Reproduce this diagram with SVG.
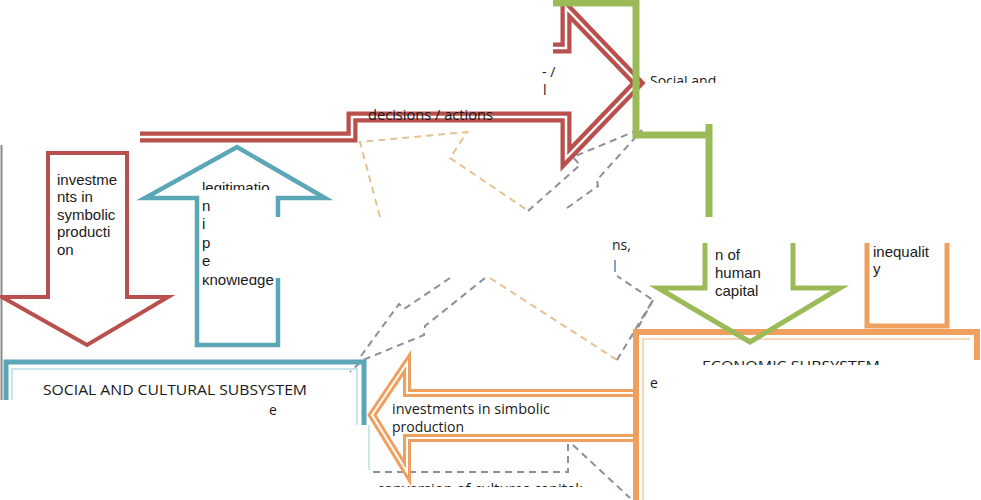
<svg xmlns="http://www.w3.org/2000/svg" width="981" height="500" viewBox="0 0 981 500">
<style>
text{font-family:"Open Sans","Liberation Sans",sans-serif;font-size:14px;fill:#1a1a1a}
.ls{font-family:"Liberation Sans",Arial,sans-serif;font-size:15px}
.red{fill:none;stroke:#b9504d;stroke-linejoin:miter}
.teal{fill:none;stroke:#5ba7b8}
.green{fill:none;stroke:#9bbb59}
.orange{fill:none;stroke:#efa05f}
.inner{fill:none;stroke:#fff}
.dg{fill:none;stroke:#8e8e9c;stroke-width:2;stroke-dasharray:7 5}
.do{fill:none;stroke:#e6c290;stroke-width:2;stroke-dasharray:7 5}
</style>
<defs>
<clipPath id="cLeg"><rect x="195" y="170" width="100" height="20"/></clipPath>
<clipPath id="cKnow"><rect x="195" y="277" width="100" height="20"/></clipPath>
<clipPath id="cDec"><rect x="360" y="108" width="150" height="20"/></clipPath>
<clipPath id="cEco"><rect x="690" y="340" width="220" height="25"/></clipPath>
<clipPath id="cConv"><rect x="370" y="470" width="230" height="17"/></clipPath>
<clipPath id="cSoc"><rect x="645" y="76" width="75" height="7"/></clipPath>
</defs>
<rect width="981" height="500" fill="#fff"/>

<g id="connectors">
<path class="do" d="M380,217 L360,142 L467,132 L450,158 L527,210"/>
<path class="dg" d="M528,211 L580,165 L573,157 L643,128"/>
<path class="dg" d="M567,208 L598,186 L597,180 L642,130"/>
<path class="dg" d="M450,278 L404,309 L399,304 L358,360"/>
<path class="dg" d="M485,278 L425,326 L424,335 L363,360 L350,372"/>
<path class="do" d="M490,278 L617,360"/>
<path class="dg" d="M617,360 L653,300 L617,276"/>
<path class="dg" d="M653,300 L633,337"/>
<path class="dg" d="M573,445 L630,498"/>
<path class="dg" d="M373,472 L568,472 L568,440" stroke="#9fb4c0"/>
<path d="M369,425 L369,470" stroke="#cfe5ec" stroke-width="2" fill="none"/>
<path d="M1.5,145 L1.5,400" stroke="#8a8a8a" stroke-width="2" fill="none"/>
</g>

<g id="arrow-decisions-actions">
<path class="red" stroke-width="11" d="M140,137 L352,137 L352,117 L566,117 L566,158 L638,83 L566,8 L566,48 L553,48"/>
<path class="inner" stroke-width="2.5" d="M140,137 L352,137 L352,117 L566,117 L566,158 L638,83 L566,8 L566,48 L553,48"/>
<text x="368" y="120" clip-path="url(#cDec)" textLength="125" lengthAdjust="spacingAndGlyphs">decisions / actions</text>
<text x="542" y="77" font-size="12">- /</text>
<text x="543" y="95" font-size="12">l</text>
</g>

<g id="social-subsystem-top">
<path class="green" stroke-width="7" d="M553,3 L636,3 L636,135 L712,135 M709,124 L709,217"/>
<text x="650" y="86" clip-path="url(#cSoc)">Social and</text>
</g>

<g id="arrow-investments-symbolic-down">
<path class="red" stroke-width="4" d="M48,153 L127,153 L127,297 L168,297 L87,345 L2,297 L48,297 Z"/>
<text class="ls" x="57" y="185">investme</text>
<text class="ls" x="57" y="202">nts in</text>
<text class="ls" x="57" y="220">symbolic</text>
<text class="ls" x="57" y="237">producti</text>
<text class="ls" x="57" y="255">on</text>
</g>

<g id="arrow-legitimation">
<path class="teal" stroke-width="4.5" d="M278,217 L278,198 L325,198 L237,147 L145,198 L197,198 L197,345 L278,345 L278,278"/>
<text class="ls" x="202" y="193" clip-path="url(#cLeg)">legitimatio</text>
<text class="ls" x="202" y="211">n</text>
<text class="ls" x="202" y="229">i</text>
<text class="ls" x="202" y="248">p</text>
<text class="ls" x="202" y="266">e</text>
<text class="ls" x="202" y="285" clip-path="url(#cKnow)">knowledge</text>
</g>

<g id="social-subsystem">
<path class="teal" stroke-width="5" d="M6,400 L6,362 L364,362 L364,425"/>
<path stroke="#b3dbe5" stroke-width="1.5" fill="none" d="M12,400 L12,369 L357,369 L357,425"/>
<text x="43" y="395" font-size="16.5" textLength="264" lengthAdjust="spacingAndGlyphs">SOCIAL AND CULTURAL SUBSYSTEM</text>
<text x="269" y="415" font-size="12">e</text>
</g>

<g id="arrow-investments-simbolic-left">
<path class="orange" stroke-width="8" d="M633,393 L407,393 L407,363 L372,415 L407,472 L407,438 L633,438"/>
<path class="inner" stroke-width="2" d="M633,393 L407,393 L407,363 L372,415 L407,472 L407,438 L633,438"/>
<text x="392" y="414" textLength="158" lengthAdjust="spacingAndGlyphs">investments in simbolic</text>
<text x="392" y="432">production</text>
<text x="377" y="494" clip-path="url(#cConv)" textLength="206" lengthAdjust="spacingAndGlyphs">conversion of cultures capital;</text>
</g>

<g id="economic-subsystem">
<path class="orange" stroke-width="6" d="M636,500 L636,332 L977,332 L977,360"/>
<path stroke="#f6c9a3" stroke-width="1.5" fill="none" d="M643,500 L643,339 L970,339"/>
<text x="702" y="371" font-size="16" clip-path="url(#cEco)" textLength="178" lengthAdjust="spacingAndGlyphs">ECONOMIC SUBSYSTEM</text>
<text x="650" y="388" font-size="13">e</text>
</g>

<g id="arrow-human-capital">
<path class="green" stroke-width="5" d="M705,243 L705,288 L658,288 L750,342 L840,288 L793,288 L793,243"/>
<text class="ls" x="715" y="260" font-size="14">n of</text>
<text class="ls" x="715" y="278" font-size="14">human</text>
<text class="ls" x="715" y="296" font-size="14">capital</text>
<text x="612" y="250" font-size="13">ns,</text>
<path d="M615,260 L615,272" stroke="#5a7fb0" stroke-width="1.5"/>
</g>

<g id="inequality">
<path class="orange" stroke-width="5" d="M867,243 L867,326 L947,326 L947,243"/>
<text class="ls" x="873" y="257" font-size="14">inequalit</text>
<text class="ls" x="873" y="274" font-size="14">y</text>
</g>
</svg>
